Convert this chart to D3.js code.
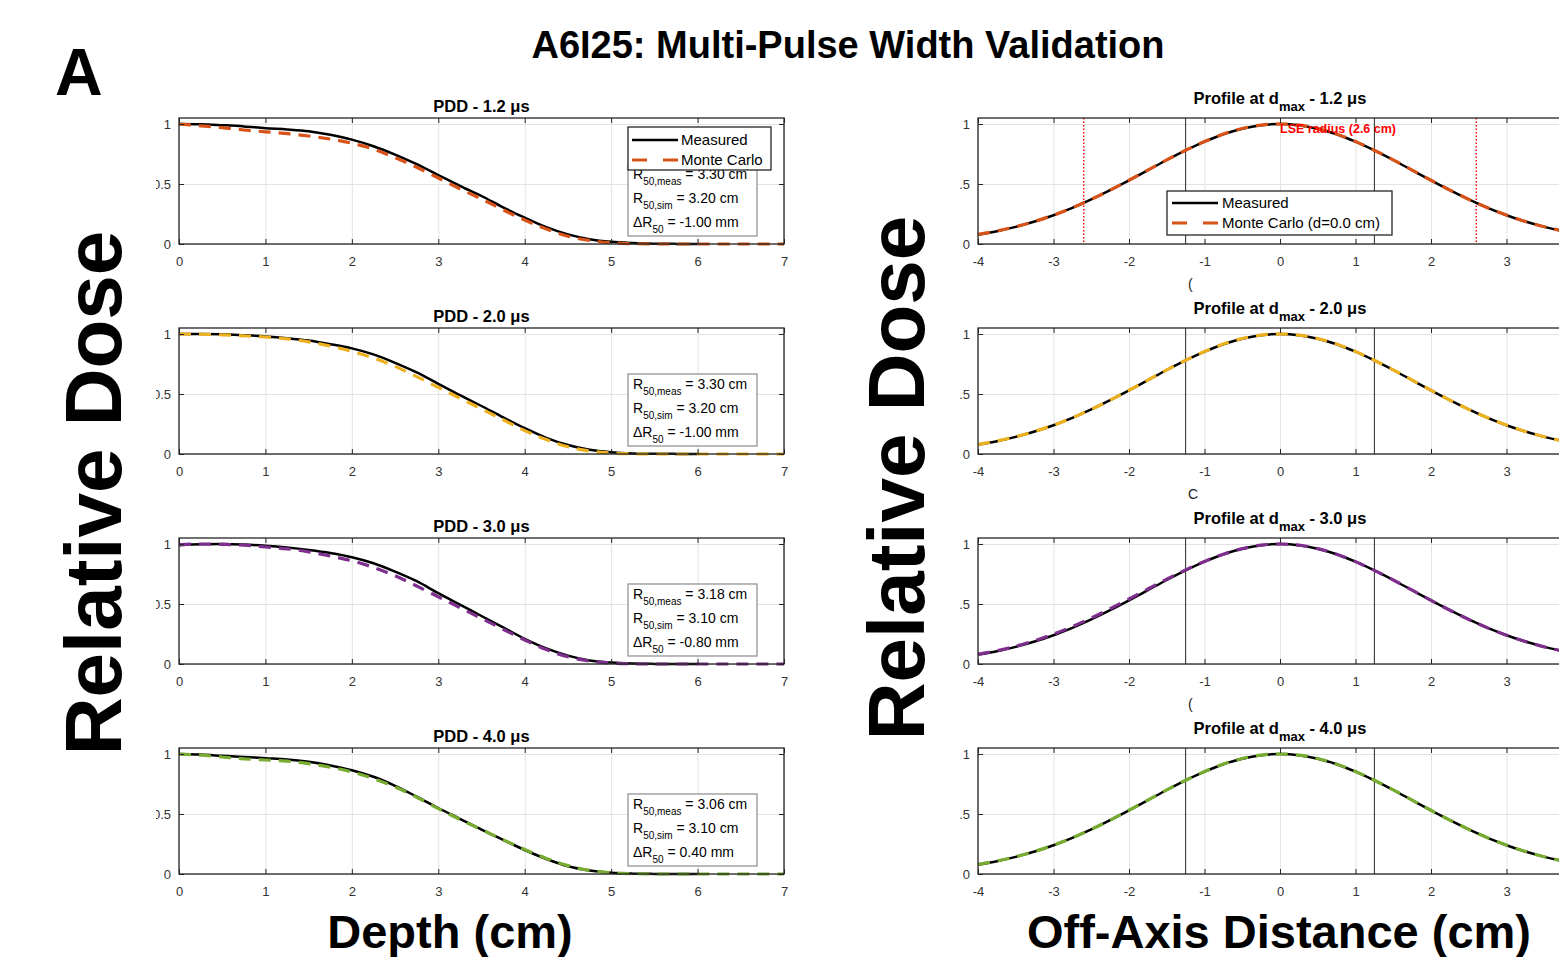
<!DOCTYPE html>
<html><head><meta charset="utf-8">
<script src="https://cdn.jsdelivr.net/npm/d3@7"></script>
<style>body{margin:0;background:#fff;} text{font-family:"Liberation Sans", Arial, Helvetica, sans-serif;}</style>
</head><body><svg id="c" width="1559" height="957"></svg>
<script>
// ---------- data ----------
const pulseWidths = ["1.2", "2.0", "3.0", "4.0"];
const mcColors = ["#D95319", "#EDB120", "#7E2F8E", "#77AC30"];

const depthMeas = [0,0.25,0.5,0.75,1,1.25,1.5,1.75,2,2.25,2.5,2.75,3,3.25,3.5,3.75,4,4.25,4.5,4.75,5,5.25,5.5,5.75,6];
const depthMC = [0,0.25,0.5,0.75,1,1.25,1.5,1.75,2,2.25,2.5,2.75,3,3.25,3.5,3.75,4,4.25,4.5,4.75,5,5.25,5.5,5.75,6,6.25,6.5,6.75,7];

const pddMeas1 = [1.000,0.998,0.990,0.980,0.965,0.955,0.940,0.910,0.870,0.815,0.745,0.665,0.575,0.485,0.400,0.305,0.220,0.140,0.080,0.040,0.018,0.008,0.003,0.001,0.000];
const pddMC1   = [1.000,0.985,0.970,0.950,0.935,0.920,0.900,0.875,0.840,0.790,0.720,0.640,0.550,0.460,0.375,0.285,0.200,0.125,0.065,0.030,0.010,0.003,0,0,0,0,0,0,0];
const pddMeas2 = [1.000,1.000,0.998,0.990,0.980,0.965,0.945,0.915,0.880,0.830,0.760,0.680,0.585,0.490,0.400,0.305,0.215,0.135,0.075,0.035,0.015,0.005,0.002,0.001,0.000];
const pddMC2   = [1.000,0.998,0.993,0.985,0.975,0.960,0.935,0.900,0.855,0.800,0.730,0.645,0.555,0.465,0.375,0.285,0.195,0.120,0.060,0.025,0.008,0.002,0,0,0,0,0,0,0];
const pddMeas3 = [0.990,0.998,1.000,0.995,0.985,0.970,0.950,0.925,0.890,0.840,0.770,0.690,0.590,0.495,0.400,0.305,0.210,0.130,0.070,0.030,0.012,0.004,0.001,0,0];
const pddMC3   = [0.995,1.000,0.997,0.990,0.975,0.960,0.935,0.900,0.860,0.805,0.735,0.650,0.560,0.470,0.380,0.290,0.200,0.120,0.060,0.025,0.008,0.002,0,0,0,0,0,0,0];
const pddMeas4 = [1.000,0.995,0.985,0.975,0.965,0.955,0.935,0.905,0.865,0.810,0.735,0.645,0.550,0.460,0.370,0.285,0.200,0.125,0.065,0.030,0.010,0.003,0.001,0,0];
const pddMC4   = [1.000,0.990,0.975,0.960,0.950,0.940,0.920,0.890,0.850,0.795,0.725,0.640,0.545,0.455,0.370,0.285,0.205,0.130,0.070,0.030,0.010,0.003,0,0,0,0,0,0,0];

const offAxis = [-4,-3.75,-3.5,-3.25,-3,-2.75,-2.5,-2.25,-2,-1.75,-1.5,-1.25,-1,-0.75,-0.5,-0.25,0,0.25,0.5,0.75,1,1.25,1.5,1.75,2,2.25,2.5,2.75,3,3.25,3.5,3.75,4];
const profMeas1 = [0.079,0.107,0.143,0.187,0.240,0.301,0.371,0.448,0.530,0.615,0.700,0.780,0.853,0.915,0.961,0.990,1.000,0.990,0.961,0.915,0.853,0.780,0.700,0.615,0.530,0.448,0.371,0.301,0.240,0.187,0.143,0.107,0.079];
const profMC1   = [0.080,0.108,0.144,0.188,0.241,0.302,0.372,0.449,0.531,0.616,0.701,0.781,0.854,0.916,0.962,0.991,1.000,0.991,0.962,0.916,0.854,0.781,0.701,0.616,0.531,0.449,0.372,0.302,0.241,0.188,0.144,0.108,0.080];
const profMeas2 = [0.079,0.107,0.143,0.187,0.240,0.301,0.371,0.448,0.530,0.615,0.700,0.780,0.853,0.915,0.961,0.990,1.000,0.990,0.961,0.915,0.853,0.780,0.700,0.615,0.530,0.448,0.371,0.301,0.240,0.187,0.143,0.107,0.079];
const profMC2   = [0.080,0.108,0.144,0.188,0.241,0.302,0.372,0.449,0.531,0.616,0.701,0.781,0.854,0.916,0.962,0.991,1.000,0.991,0.962,0.916,0.854,0.781,0.701,0.616,0.531,0.449,0.372,0.302,0.241,0.188,0.144,0.108,0.080];
const profMeas3 = [0.079,0.107,0.143,0.187,0.240,0.301,0.371,0.448,0.530,0.615,0.700,0.780,0.853,0.915,0.961,0.990,1.000,0.990,0.961,0.915,0.853,0.780,0.700,0.615,0.530,0.448,0.371,0.301,0.240,0.187,0.143,0.107,0.079];
const profMC3   = [0.082,0.110,0.148,0.194,0.249,0.312,0.383,0.460,0.542,0.625,0.707,0.784,0.855,0.915,0.961,0.990,1.000,0.990,0.961,0.915,0.853,0.780,0.700,0.615,0.530,0.448,0.371,0.301,0.240,0.187,0.143,0.107,0.079];
const profMeas4 = [0.079,0.107,0.143,0.187,0.240,0.301,0.371,0.448,0.530,0.615,0.700,0.780,0.853,0.915,0.961,0.990,1.000,0.990,0.961,0.915,0.853,0.780,0.700,0.615,0.530,0.448,0.371,0.301,0.240,0.187,0.143,0.107,0.079];
const profMC4   = [0.080,0.108,0.144,0.188,0.241,0.302,0.372,0.449,0.531,0.616,0.701,0.781,0.854,0.916,0.962,0.991,1.000,0.991,0.962,0.916,0.854,0.781,0.701,0.616,0.531,0.449,0.372,0.302,0.241,0.188,0.144,0.108,0.080];

const pddMeasAll = [pddMeas1, pddMeas2, pddMeas3, pddMeas4];
const pddMCAll = [pddMC1, pddMC2, pddMC3, pddMC4];
const profMeasAll = [profMeas1, profMeas2, profMeas3, profMeas4];
const profMCAll = [profMC1, profMC2, profMC3, profMC4];

const r50Meas = ["3.30", "3.30", "3.18", "3.06"];
const r50Sim = ["3.20", "3.20", "3.10", "3.10"];
const dR50 = ["-1.00", "-1.00", "-0.80", "0.40"];

const fieldEdges = [-1.25, 1.25];
const lseRadius = [-2.6, 2.6];

const depthTicks = [0,1,2,3,4,5,6,7];
const depthTickLabels = ["0","1","2","3","4","5","6","7"];
const offTicks = [-4,-3,-2,-1,0,1,2,3,4];
const offTickLabels = ["-4","-3","-2","-1","0","1","2","3",""];
const doseTicks = [0, 0.5, 1];
const doseTickLabels = ["0", "0.5", "1"];
const axisFragments = ["(", "C", "("];

// ---------- layout ----------
const svg = d3.select("#c");
const panelTops = [118, 328, 538, 748];
const PH = 126;
const xL = d3.scaleLinear().domain([0, 7]).range([179, 784]);
const xR = d3.scaleLinear().domain([-4, 4]).range([978, 1582]);
const axisCol = "#262626";

function frameAndAxes(x, top, ticks, right) {
  const y = d3.scaleLinear().domain([0, 1.05]).range([top + PH, top]);
  const g = svg.append("g");
  g.append("g").attr("transform", `translate(0,${top + PH})`)
    .call(d3.axisBottom(x).tickValues(ticks).tickSize(-PH).tickFormat(""))
    .call(s => s.select(".domain").remove())
    .selectAll("line").attr("stroke", "#e3e3e3").attr("stroke-width", 1);
  g.append("g").attr("transform", `translate(${x.range()[0]},0)`)
    .call(d3.axisLeft(y).tickValues(doseTicks).tickSize(-(right - x.range()[0])).tickFormat(""))
    .call(s => s.select(".domain").remove())
    .selectAll("line").attr("stroke", "#e3e3e3").attr("stroke-width", 1);
  return {g, y};
}

function drawTicks(g, x, y, top, ticks, labels, right) {
  const bottom = top + PH;
  const left = x.range()[0];
  const b = g.append("g").attr("transform", `translate(0,${bottom})`)
    .call(d3.axisBottom(x).tickValues(ticks).tickSizeInner(-5).tickSizeOuter(0).tickPadding(13)
      .tickFormat((d, i) => labels[i]));
  b.select(".domain").remove();
  b.selectAll("line").attr("stroke", axisCol);
  b.selectAll("text").attr("font-size", 13).attr("fill", "#333");
  const t = g.append("g").attr("transform", `translate(0,${top})`)
    .call(d3.axisTop(x).tickValues(ticks).tickSizeInner(-5).tickSizeOuter(0).tickFormat(""));
  t.select(".domain").remove();
  t.selectAll("line").attr("stroke", axisCol);
  const l = g.append("g").attr("transform", `translate(${left},0)`)
    .call(d3.axisLeft(y).tickValues(doseTicks).tickSizeInner(-5).tickSizeOuter(0).tickPadding(8)
      .tickFormat((d, i) => doseTickLabels[i]));
  l.select(".domain").remove();
  l.selectAll("line").attr("stroke", axisCol);
  l.selectAll("text").attr("font-size", 13).attr("fill", "#333");
  const r = g.append("g").attr("transform", `translate(${right},0)`)
    .call(d3.axisRight(y).tickValues(doseTicks).tickSizeInner(-5).tickSizeOuter(0).tickFormat(""));
  r.select(".domain").remove();
  r.selectAll("line").attr("stroke", axisCol);
  g.append("rect").attr("x", left).attr("y", top).attr("width", right - left).attr("height", PH)
    .attr("fill", "none").attr("stroke", axisCol).attr("stroke-width", 1.3);
}

function subText(g, x, y, main, sub, rest, size, subSize, weight, fill) {
  const t = g.append("text").attr("x", x).attr("y", y).attr("font-size", size)
    .attr("font-weight", weight || "normal").attr("fill", fill || "#000");
  t.append("tspan").text(main);
  t.append("tspan").attr("font-size", subSize).attr("dy", subSize * 0.55).text(sub);
  t.append("tspan").attr("dy", -subSize * 0.55).text(rest);
  return t;
}

const lineW = 2.5, dashW = 3.2, dashArr = "12,8";

// ---------- left: PDD ----------
pulseWidths.forEach((pw, i) => {
  const top = panelTops[i];
  const right = 784;
  const {g, y} = frameAndAxes(xL, top, depthTicks, right);
  const line = d3.line().curve(d3.curveMonotoneX);
  g.append("path").attr("d", line(depthMeas.map((d, k) => [xL(d), y(pddMeasAll[i][k])])))
    .attr("fill", "none").attr("stroke", "#000").attr("stroke-width", lineW);
  g.append("path").attr("d", line(depthMC.map((d, k) => [xL(d), y(pddMCAll[i][k])])))
    .attr("fill", "none").attr("stroke", mcColors[i]).attr("stroke-width", dashW).attr("stroke-dasharray", dashArr);
  drawTicks(g, xL, y, top, depthTicks, depthTickLabels, right);
  g.append("text").attr("x", (179 + 784) / 2).attr("y", top - 6).attr("text-anchor", "middle")
    .attr("font-size", 16.5).attr("font-weight", "bold").text(`PDD - ${pw} μs`);
  g.append("rect").attr("x", 628).attr("y", top + 46).attr("width", 129).attr("height", 72)
    .attr("fill", "#fff").attr("stroke", "#8c8c8c").attr("stroke-width", 1.2);
  subText(g, 633, top + 61, "R", "50,meas", " = " + r50Meas[i] + " cm", 14, 10);
  subText(g, 633, top + 85, "R", "50,sim", " = " + r50Sim[i] + " cm", 14, 10);
  subText(g, 633, top + 109, "ΔR", "50", " = " + dR50[i] + " mm", 14, 10);
  if (i === 0) {
    g.append("rect").attr("x", 628).attr("y", top + 9).attr("width", 143).attr("height", 43)
      .attr("fill", "#fff").attr("stroke", axisCol).attr("stroke-width", 1.3);
    g.append("line").attr("x1", 632).attr("x2", 678).attr("y1", top + 22).attr("y2", top + 22)
      .attr("stroke", "#000").attr("stroke-width", lineW);
    g.append("line").attr("x1", 632).attr("x2", 678).attr("y1", top + 42).attr("y2", top + 42)
      .attr("stroke", mcColors[0]).attr("stroke-width", dashW).attr("stroke-dasharray", "15,16");
    g.append("text").attr("x", 681).attr("y", top + 27).attr("font-size", 15).text("Measured");
    g.append("text").attr("x", 681).attr("y", top + 47).attr("font-size", 15).text("Monte Carlo");
  }
  svg.append("rect").attr("x", 125).attr("y", top - 10).attr("width", 31).attr("height", PH + 20).attr("fill", "#fff");
});

// ---------- right: profiles ----------
pulseWidths.forEach((pw, i) => {
  const top = panelTops[i];
  const right = 1582;
  const {g, y} = frameAndAxes(xR, top, offTicks, right);
  fieldEdges.forEach(v => g.append("line").attr("x1", xR(v)).attr("x2", xR(v)).attr("y1", top).attr("y2", top + PH)
    .attr("stroke", axisCol).attr("stroke-width", 1));
  if (i === 0) {
    lseRadius.forEach(v => g.append("line").attr("x1", xR(v)).attr("x2", xR(v)).attr("y1", top).attr("y2", top + PH)
      .attr("stroke", "#ff0000").attr("stroke-width", 1.4).attr("stroke-dasharray", "1.5,2"));
  }
  const line = d3.line().curve(d3.curveMonotoneX);
  g.append("path").attr("d", line(offAxis.map((d, k) => [xR(d), y(profMeasAll[i][k])])))
    .attr("fill", "none").attr("stroke", "#000").attr("stroke-width", lineW);
  g.append("path").attr("d", line(offAxis.map((d, k) => [xR(d), y(profMCAll[i][k])])))
    .attr("fill", "none").attr("stroke", mcColors[i]).attr("stroke-width", dashW).attr("stroke-dasharray", dashArr);
  drawTicks(g, xR, y, top, offTicks, offTickLabels, right);
  const tt = g.append("text").attr("x", 1280).attr("y", top - 14).attr("text-anchor", "middle")
    .attr("font-size", 16.5).attr("font-weight", "bold");
  tt.append("tspan").text("Profile at d");
  tt.append("tspan").attr("font-size", 13).attr("dy", 7).text("max");
  tt.append("tspan").attr("dy", -7).text(` - ${pw} μs`);
  if (i === 0) {
    g.append("text").attr("x", 1280).attr("y", top + 15).attr("font-size", 12.5).attr("font-weight", "bold")
      .attr("fill", "#ff0000").text("LSE radius (2.6 cm)");
    g.append("rect").attr("x", 1167).attr("y", top + 73).attr("width", 225).attr("height", 44)
      .attr("fill", "#fff").attr("stroke", axisCol).attr("stroke-width", 1.3);
    g.append("line").attr("x1", 1172).attr("x2", 1218).attr("y1", top + 85).attr("y2", top + 85)
      .attr("stroke", "#000").attr("stroke-width", lineW);
    g.append("line").attr("x1", 1172).attr("x2", 1218).attr("y1", top + 105).attr("y2", top + 105)
      .attr("stroke", mcColors[0]).attr("stroke-width", dashW).attr("stroke-dasharray", "15,16");
    g.append("text").attr("x", 1222).attr("y", top + 90).attr("font-size", 15).text("Measured");
    g.append("text").attr("x", 1222).attr("y", top + 110).attr("font-size", 15).text("Monte Carlo (d=0.0 cm)");
  }
  if (i < 3) {
    g.append("text").attr("x", 1188).attr("y", top + PH + 45).attr("font-size", 14).attr("fill", "#222").text(axisFragments[i]);
  }
  svg.append("rect").attr("x", 930).attr("y", top - 10).attr("width", 29.5).attr("height", PH + 20).attr("fill", "#fff");
});

// ---------- big labels ----------
svg.append("text").attr("x", 55).attr("y", 95).attr("font-size", 66).attr("font-weight", "bold").text("A");
svg.append("text").attr("x", 848).attr("y", 58).attr("text-anchor", "middle").attr("font-size", 38)
  .attr("font-weight", "bold").text("A6I25: Multi-Pulse Width Validation");
svg.append("text").attr("transform", "translate(121,493) rotate(-90)").attr("text-anchor", "middle")
  .attr("font-size", 80).attr("font-weight", "bold").text("Relative Dose");
svg.append("text").attr("transform", "translate(924,478) rotate(-90)").attr("text-anchor", "middle")
  .attr("font-size", 80).attr("font-weight", "bold").text("Relative Dose");
svg.append("text").attr("x", 450).attr("y", 948).attr("text-anchor", "middle").attr("font-size", 47)
  .attr("font-weight", "bold").text("Depth (cm)");
svg.append("text").attr("x", 1279).attr("y", 948).attr("text-anchor", "middle").attr("font-size", 47)
  .attr("font-weight", "bold").text("Off-Axis Distance (cm)");
</script></body></html>
